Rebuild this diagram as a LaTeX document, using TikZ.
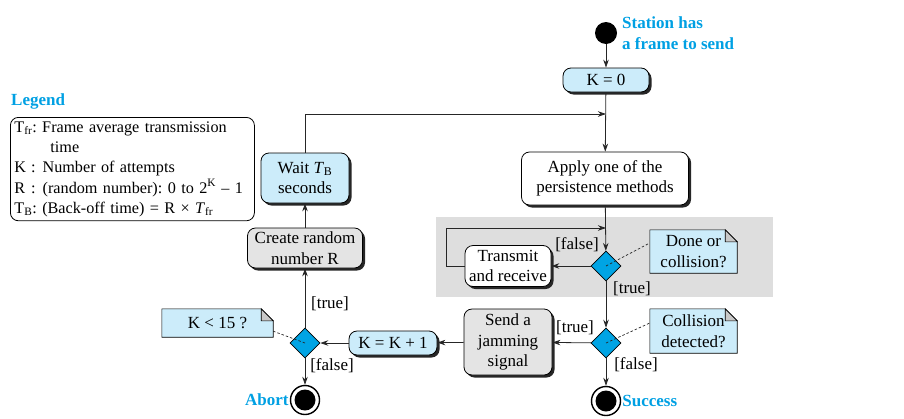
\documentclass[tikz,border=0pt]{standalone}
\usepackage{fontspec}
\setmainfont{Liberation Serif}
\usetikzlibrary{shapes.geometric,arrows.meta,shadows,backgrounds}
\definecolor{lblue}{RGB}{204,236,250}
\definecolor{tblue}{RGB}{0,160,227}
\definecolor{dcyan}{RGB}{0,164,228}
\definecolor{gbox}{RGB}{228,228,228}
\definecolor{greg}{RGB}{222,222,222}
\definecolor{foldc}{RGB}{200,200,200}
\frenchspacing
\newcommand{\drawnote}[1]{%
  \filldraw[fill=lblue, draw=black, line width=0.6pt] (#1.north west) -- ([xshift=-12pt]#1.north east) -- ([yshift=-12pt]#1.north east) -- (#1.south east) -- (#1.south west) -- cycle;
  \filldraw[fill=foldc, draw=black, line width=0.6pt] ([xshift=-12pt]#1.north east) -- ([xshift=-12pt,yshift=-12pt]#1.north east) -- ([yshift=-12pt]#1.north east) -- cycle;}
\begin{document}
\begin{tikzpicture}[x=1pt,y=-1pt,
  font=\fontsize{17}{20.5}\selectfont,
  box/.style={draw=black, line width=0.8pt, rounded corners=8pt, align=center, inner sep=2pt,
    drop shadow={shadow xshift=2.5pt, shadow yshift=-2.5pt, fill=black!85, opacity=1}},
  bluebox/.style={box, fill=lblue},
  whitebox/.style={box, fill=white},
  graybox/.style={box, fill=gbox},
  dec/.style={shape=diamond, aspect=1, draw=black, line width=0.6pt, fill=dcyan, minimum width=30pt, minimum height=30pt, inner sep=0pt},
  notetext/.style={inner sep=0pt, align=center},
  startnode/.style={circle, fill=black, minimum size=22pt, inner sep=0pt},
  endnode/.style={circle, draw=black, line width=1.4pt, fill=white, minimum size=29pt, inner sep=0pt,
    path picture={\fill[black] (path picture bounding box.center) circle (10.5pt);}},
  bluelbl/.style={text=tblue, font=\fontsize{17}{20.5}\selectfont\bfseries, align=left, inner sep=1pt},
  lbl/.style={inner sep=0pt},
  arr/.style={draw=black!85, line width=0.8pt, -{Stealth[length=8pt,width=5.5pt]}},
  dashline/.style={draw=black!85, line width=0.7pt, dash pattern=on 2.5pt off 2pt}
]
\useasboundingbox (0,0) rectangle (904,418);

% nodes
\node[startnode] (start) at (606,33) {};
\node[bluelbl, anchor=west] (stlbl) at (621,33) {Station has\\a frame to send};
\node[bluebox, minimum width=86pt, minimum height=24pt] (k0) at (606,80) {K = 0};
\node[whitebox, minimum width=167pt, minimum height=53pt] (apply) at (605,178.5) {Apply one of the\\persistence methods};
\node[dec] (d1) at (606,266) {};
\node[whitebox, minimum width=86pt, minimum height=41pt] (transmit) at (508,266) {Transmit\\and receive};
\node[notetext, minimum width=87pt, minimum height=43pt] (n1) at (693.5,251.5) {Done or\\collision?};
\node[dec] (d2) at (606,343) {};
\node[notetext, minimum width=87pt, minimum height=44pt] (n2) at (693.5,331) {Collision\\detected?};
\node[endnode] (success) at (606,401) {};
\node[bluelbl, anchor=west] (suclbl) at (success.east) {Success};
\node[graybox, minimum width=88pt, minimum height=66pt] (jam) at (508,342) {Send a\\jamming\\signal};
\node[bluebox, minimum width=88pt, minimum height=24pt] (kk1) at (393,343) {K = K + 1};
\node[dec] (d3) at (305,343) {};
\node[notetext, minimum width=111pt, minimum height=28pt] (n3) at (217.5,323) {K < 15 ?};
\node[endnode] (abort) at (305,400) {};
\node[bluelbl, anchor=east] (ablbl) at (abort.west) {Abort};
\node[graybox, minimum width=115pt, minimum height=40pt] (create) at (305,248) {Create random\\number R};
\node[bluebox, minimum width=88pt, minimum height=50pt] (wait) at (305,178) {Wait \textit{T}\textsubscript{B}\\seconds};
\node[bluelbl, anchor=west] (leglbl) at (10,101) {Legend};
\node[draw=black, line width=0.8pt, rounded corners=8pt, anchor=north west, text width=236pt, minimum height=101pt, inner sep=4pt, align=left,
  font=\fontsize{16.2}{20.3}\selectfont] (legend) at (10,117)
{T\textsubscript{fr}: Frame average transmission\\
\hspace*{36pt}time\\
K\hspace{5pt}:\hspace{7pt}Number of attempts\\
R\hspace{6pt}:\hspace{7pt}(random number): 0 to 2\textsuperscript{K} – 1\\
T\textsubscript{B}: (Back-off time) = R × \textit{T}\textsubscript{fr}};

% labels
\node[lbl] (f1) at (577,245) {[false]};
\node[lbl] (t1) at (632,289) {[true]};
\node[lbl] (t2) at (575,328) {[true]};
\node[lbl] (f2) at (636,365) {[false]};
\node[lbl] (t3) at (330,304) {[true]};
\node[lbl] (f3) at (332,366) {[false]};

\coordinate (merge) at (606,114);
\coordinate (loopin) at (606,228);

% background
\begin{scope}[on background layer]
  \fill[greg] (436,217) rectangle (773,297);
  \drawnote{n1}
  \drawnote{n2}
  \drawnote{n3}
\end{scope}

% connectors
\draw[arr] (start) -- (k0);
\draw[arr] (k0) -- (apply);
\draw[arr] (apply) -- (d1);
\draw[arr] (d1) -- (transmit);
\draw[arr] (transmit.west) -- ++(-18,0) |- (loopin);
\draw[arr] (d1) -- (d2);
\draw[arr] (d2) -- (jam);
\draw[arr] (d2) -- (success);
\draw[arr] (jam) -- (kk1);
\draw[arr] (kk1) -- (d3);
\draw[arr] (d3) -- (create);
\draw[arr] (d3) -- (abort);
\draw[arr] (create) -- (wait);
\draw[arr] (wait.north) |- (merge);

\draw[dashline] (d1.center) -- ([yshift=8.5pt]n1.west);
\draw[dashline] (d2.center) -- ([yshift=8pt]n2.west);
\draw[dashline] (d3.center) -- ([yshift=6pt]n3.south east);
\end{tikzpicture}
\end{document}
